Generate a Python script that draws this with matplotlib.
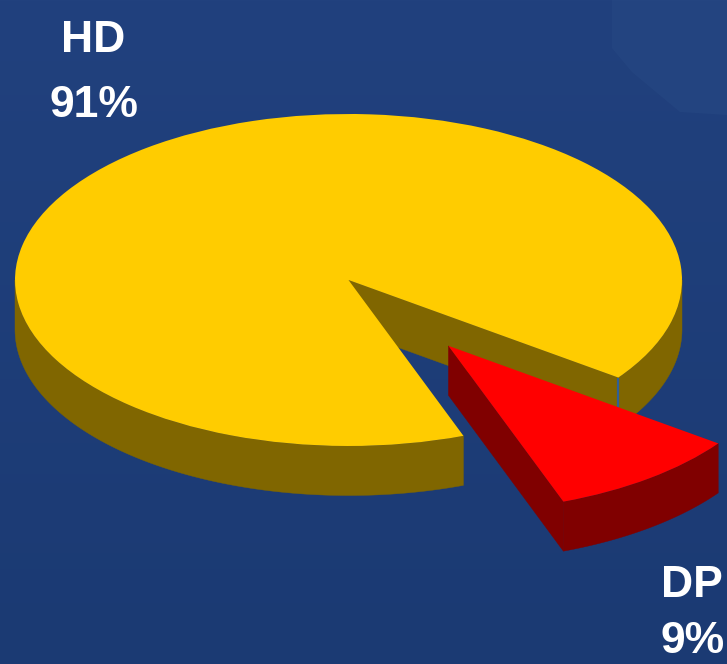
import numpy as np
import matplotlib
matplotlib.use("Agg")
import matplotlib.pyplot as plt
from matplotlib.patches import Polygon
from matplotlib.colors import to_rgb

labels = ["HD", "DP"]
shares = [90.6, 9.4]
explode = [0.0, 0.497]
top_colors = ["#FFCC00", "#FF0000"]
side_colors = ["#806600", "#800000"]

W, H = 727, 664
CX, CY, RX, RY, DEPTH = 348.5, 280.0, 333.5, 166.0, 49.5

fig = plt.figure(figsize=(W / 100, H / 100), dpi=100)

# background
bg = fig.add_axes([0, 0, 1, 1], zorder=0)
top, bottom = np.array(to_rgb("#21417E")), np.array(to_rgb("#1B3A73"))
t = np.linspace(0, 1, H)[:, None, None]
img = np.ones((H, W, 3)) * (top * (1 - t) + bottom * t)
bg.imshow(img, extent=(0, W, H, 0), aspect="auto", interpolation="bilinear")
bg.add_patch(Polygon([(612, 0), (727, 0), (727, 115), (680, 112), (632, 72), (612, 48)],
                     closed=True, fc="#2B4E88", ec="none", alpha=0.35))
bg.set_xlim(0, W); bg.set_ylim(H, 0); bg.axis("off")

# pie: unit circle squashed to an ellipse through the axis limits
ax = fig.add_axes([0, 0, 1, 1], zorder=1)
ax.patch.set_alpha(0)
wedges, _ = ax.pie(shares, explode=explode, colors=top_colors, startangle=-36,
                   radius=1.0, wedgeprops=dict(linewidth=0))
ax.set_aspect("auto")
ax.set_xlim(-CX / RX, (W - CX) / RX)
ax.set_ylim((CY - H) / RY, CY / RY)
ax.axis("off")
d = DEPTH / RY


def pt(c, deg):
    a = np.radians(deg)
    return np.array([c[0] + np.cos(a), c[1] + np.sin(a)])


def rim(c, a0, a1, color, z):
    th = np.radians(np.linspace(a0, a1, 240))
    xs = c[0] + np.cos(th)
    ys = c[1] + np.sin(th)
    verts = np.vstack([np.c_[xs, ys], np.c_[xs, ys - d][::-1]])
    ax.add_patch(Polygon(verts, closed=True, fc=color, ec=color, lw=0.3, zorder=z))


def wall(c, deg, color, z):
    p = pt(c, deg)
    verts = [tuple(c), tuple(p), (p[0], p[1] - d), (c[0], c[1] - d)]
    ax.add_patch(Polygon(verts, closed=True, fc=color, ec=color, lw=0.3, zorder=z))


hd, dp = wedges
hd.set_zorder(4)
dp.set_zorder(8)

# HD: visible cut wall and outer rim (front half of the ellipse only)
c = np.array(hd.center)
wall(c, hd.theta1, side_colors[0], 2)
rim(c, hd.theta1, 0, side_colors[0], 2)
rim(c, 180, hd.theta2, side_colors[0], 2)
corner = pt(c, hd.theta1)
ax.plot([corner[0], corner[0]], [corner[1], corner[1] - d], color="#2F5F96", lw=1.6,
        solid_capstyle="butt", zorder=3)

# DP: visible cut wall and outer rim
c = np.array(dp.center)
wall(c, dp.theta1, side_colors[1], 6)
rim(c, dp.theta1, dp.theta2, side_colors[1], 6)

# labels
for s, x, y in [(labels[0], 93, 52), (f"{shares[0]:.0f}%", 94, 117),
                (labels[1], 692, 597), (f"{shares[1]:.0f}%", 693, 653)]:
    fig.text(x / W, 1 - y / H, s, color="white", fontsize=32, fontweight="bold",
             family="Liberation Sans", ha="center", va="baseline", zorder=10)

fig.savefig("out.png", dpi=100)
